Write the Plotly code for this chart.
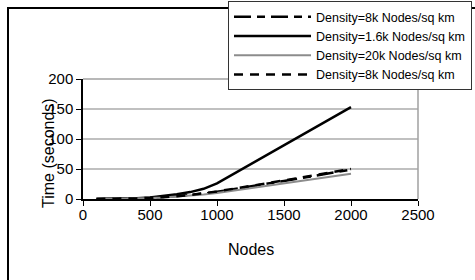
import plotly.graph_objects as go

nodes = [100, 200, 300, 400, 500, 600, 700, 800, 900, 1000, 1500, 2000]
d8k_a = [0.1, 0.2, 0.5, 1.0, 1.8, 3.0, 4.5, 6.5, 9.0, 12.0, 30, 49]
d1_6k = [0.1, 0.3, 0.6, 1.2, 2.5, 5.0, 8.0, 11.5, 17.0, 26.0, 89, 153]
d20k = [0.1, 0.2, 0.4, 0.8, 1.5, 2.5, 4.0, 5.5, 7.5, 10.0, 26, 42]
d8k_b = [0.1, 0.2, 0.5, 1.0, 1.8, 3.0, 4.6, 6.8, 9.2, 12.5, 31, 50]
names = ["Density=8k Nodes/sq km", "Density=1.6k Nodes/sq km",
         "Density=20k Nodes/sq km", "Density=8k Nodes/sq km"]
x_ticks = [0, 500, 1000, 1500, 2000, 2500]
y_ticks = [0, 50, 100, 150, 200]

FONT = "Liberation Sans, Arial, sans-serif"
W, H = 475, 280
L, R, T, B = 83, 418, 79, 199
pw, ph = R - L, B - T

fig = go.Figure()
styles = [
    dict(color="black", width=2.5, dash="17px,6px,8px,6px"),
    dict(color="black", width=2.5),
    dict(color="#8c8c8c", width=2),
    dict(color="black", width=2.5, dash="9px,7px"),
]
for name, ys, st in zip(names, [d8k_a, d1_6k, d20k, d8k_b], styles):
    fig.add_trace(go.Scatter(x=nodes, y=ys, mode="lines", name=name, line=st))

def px_x(p):
    return (p - L) / pw

def px_y(p):
    return (B - p) / ph

fig.update_layout(
    width=W, height=H,
    margin=dict(l=L, r=W - R, t=T, b=H - B, autoexpand=False),
    paper_bgcolor="white", plot_bgcolor="white",
    font=dict(family=FONT, color="black", size=15),
    showlegend=True,
    legend=dict(
        x=px_x(228), y=px_y(1), xanchor="left", yanchor="top",
        bgcolor="white", bordercolor="#333333", borderwidth=1,
        font=dict(size=12.5, family=FONT, color="black"),
        itemwidth=77, tracegroupgap=0,
    ),
    xaxis=dict(
        range=[0, 2500], tickvals=x_ticks, ticktext=[str(v) for v in x_ticks],
        showgrid=False, zeroline=False,
        showline=True, linecolor="black", linewidth=1.5, mirror=False,
        ticks="outside", ticklen=5, tickcolor="black", tickwidth=1,
        tickfont=dict(size=15), ticklabelstandoff=-4,
    ),
    yaxis=dict(
        range=[0, 200], tickvals=y_ticks, ticktext=[str(v) for v in y_ticks],
        showgrid=True, gridcolor="#c0c0c0", gridwidth=1.5, zeroline=False,
        showline=True, linecolor="black", linewidth=1.5,
        ticks="outside", ticklen=5, tickcolor="black", tickwidth=1,
        tickfont=dict(size=15),
    ),
    shapes=[
        dict(type="line", xref="paper", yref="paper", x0=0, x1=1, y0=1, y1=1,
             line=dict(color="#a0a0a0", width=1.5)),
        dict(type="line", xref="paper", yref="paper", x0=1, x1=1, y0=0, y1=1,
             line=dict(color="#a0a0a0", width=1.5)),
        dict(type="line", xref="paper", yref="paper",
             x0=px_x(8), x1=px_x(8), y0=px_y(7), y1=px_y(280),
             line=dict(color="black", width=2)),
        dict(type="line", xref="paper", yref="paper",
             x0=px_x(7), x1=px_x(475), y0=px_y(8), y1=px_y(8),
             line=dict(color="black", width=2)),
    ],
    annotations=[
        dict(text="Time (seconds)", xref="paper", yref="paper",
             x=px_x(48), y=px_y(153), xanchor="center", yanchor="middle",
             textangle=-90, showarrow=False, font=dict(size=16)),
        dict(text="Nodes", xref="paper", yref="paper",
             x=px_x(251), y=px_y(249), xanchor="center", yanchor="middle",
             showarrow=False, font=dict(size=16)),
    ],
)

fig.write_html("out.html", config={"displayModeBar": False},
               post_script="document.body.style.margin='0';document.body.style.padding='0';")
